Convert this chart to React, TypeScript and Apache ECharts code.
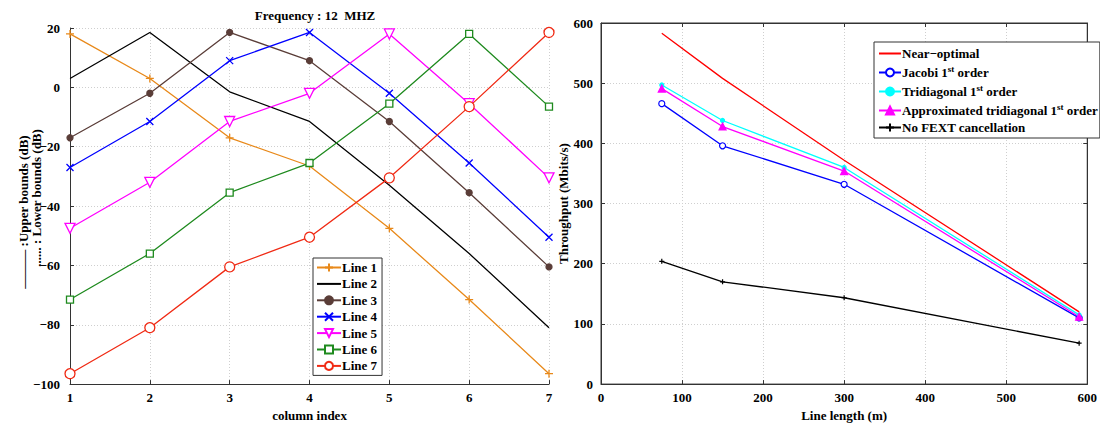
import React, { useEffect, useRef } from "react";
import * as echarts from "echarts";

const columnIndex = [1, 2, 3, 4, 5, 6, 7];
const line1 = [18, 3, -17, -26.5, -47.5, -71.5, -96.5];
const line2 = [3, 18.5, -1.5, -11.5, -33, -56, -81];
const line3 = [-17, -2, 18.5, 9, -11.5, -35.5, -60.5];
const line4 = [-27, -11.5, 9, 18.5, -2, -25.5, -50.5];
const line5 = [-47.5, -32, -11.5, -2, 18, -5.5, -30.5];
const line6 = [-71.5, -56, -35.5, -25.5, -5.5, 18, -6.5];
const line7 = [-96.5, -81, -60.5, -50.5, -30.5, -6.5, 18.5];

const lineLength = [75, 150, 300, 590];
const nearOptimal = [583, 508, 372, 120];
const jacobi = [466, 396, 332, 110];
const tridiagonal = [497, 438, 360, 115];
const approxTridiagonal = [491, 428, 354, 112];
const noFext = [204, 170, 143.5, 68];

const leftYTicks = [-100, 20, 20];
const rightYTicks = [0, 600, 100];
const rightXTicks = [0, 600, 100];

const FONT = "Liberation Serif";

const pairs = (xs: number[], ys: number[]) => xs.map((x, i) => [x, ys[i]]);
const minus = (v: number) => String(v).replace("-", "\u2212");

export default function App() {
  const ref = useRef<HTMLDivElement>(null);
  useEffect(() => {
    if (!ref.current) return;
    const chart = echarts.init(ref.current, null, { renderer: "svg" });
    const labelStyle = { fontFamily: FONT, fontWeight: "bold" as const, fontSize: 13, color: "#000" };
    const gridLine = { show: true, lineStyle: { color: "#cfcfcf", type: [1, 2] as any, width: 1 } };
    const axisLine = { show: true, onZero: false, lineStyle: { color: "#333", width: 1 } };
    const tick = { show: true, inside: true, length: 4, lineStyle: { color: "#333" } };

    const plus = "path://M0,5L10,5M5,0L5,10";
    const cross = "path://M0,0L10,10M10,0L0,10";
    const triDown = "path://M0,0L10,0L5,9Z";

    const leftDefs = [
      { name: "Line 1", data: line1, color: "#e8891a", symbol: plus, size: 8, fill: "none" },
      { name: "Line 2", data: line2, color: "#000000", symbol: "none", size: 0, fill: "none" },
      { name: "Line 3", data: line3, color: "#5a3d38", symbol: "circle", size: 6, fill: "#5a3d38" },
      { name: "Line 4", data: line4, color: "#0000ff", symbol: cross, size: 7, fill: "none" },
      { name: "Line 5", data: line5, color: "#ff00ff", symbol: triDown, size: 10, fill: "#fff" },
      { name: "Line 6", data: line6, color: "#1e8a1e", symbol: "rect", size: 7, fill: "#fff" },
      { name: "Line 7", data: line7, color: "#f02a14", symbol: "circle", size: 10, fill: "#fff" },
    ];
    const leftSeries = leftDefs.map((s) => ({
      type: "line",
      name: s.name,
      xAxisIndex: 0,
      yAxisIndex: 0,
      data: pairs(columnIndex, s.data),
      symbol: s.symbol,
      symbolSize: s.size,
      showSymbol: s.symbol !== "none",
      color: s.color,
      lineStyle: { color: s.color, width: 1.3 },
      itemStyle: { color: s.fill, borderColor: s.color, borderWidth: 1.3 },
      z: 3,
    }));

    const rightDefs = [
      { name: "Near\u2212optimal", data: nearOptimal, color: "#ff0000", symbol: "none", size: 0, fill: "none" },
      { name: "Jacobi 1st order", data: jacobi, color: "#0000ff", symbol: "circle", size: 6, fill: "#fff" },
      { name: "Tridiagonal 1st order", data: tridiagonal, color: "#00ffff", symbol: "circle", size: 4, fill: "#00ffff" },
      { name: "Approximated tridiagonal 1st order", data: approxTridiagonal, color: "#ff00ff", symbol: "triangle", size: 7, fill: "#ff00ff" },
      { name: "No FEXT cancellation", data: noFext, color: "#000000", symbol: plus, size: 5, fill: "none" },
    ];
    const rightSeries = rightDefs.map((s) => ({
      type: "line",
      name: s.name,
      xAxisIndex: 1,
      yAxisIndex: 1,
      data: pairs(lineLength, s.data),
      symbol: s.symbol,
      symbolSize: s.size,
      showSymbol: s.symbol !== "none",
      color: s.color,
      lineStyle: { color: s.color, width: 1.3 },
      itemStyle: { color: s.fill, borderColor: s.color, borderWidth: 1.2 },
      z: 3,
    }));

    const legendData = (defs: any[]) =>
      defs.map((s) =>
        s.symbol === "none"
          ? { name: s.name, itemStyle: { color: "transparent", borderColor: "transparent", borderWidth: 0, opacity: 0 } }
          : { name: s.name }
      );

    chart.setOption({
      animation: false,
      backgroundColor: "#fff",
      textStyle: { fontFamily: FONT },
      title: {
        text: "Frequency : 12  MHZ",
        left: 310,
        top: 4,
        textAlign: "center",
        textStyle: { fontFamily: FONT, fontWeight: "bold", fontSize: 13, color: "#000" },
      },
      grid: [
        { left: 70, right: 551, top: 28, bottom: 36, containLabel: false },
        { left: 601, right: 8, top: 23, bottom: 32, containLabel: false, show: true, borderColor: "#333", borderWidth: 1, backgroundColor: "transparent" },
      ],
      xAxis: [
        {
          type: "value", gridIndex: 0, min: 1, max: 7, interval: 1,
          axisLine, axisTick: tick, splitLine: gridLine,
          axisLabel: { ...labelStyle, margin: 7 },
          name: "column index", nameLocation: "middle", nameGap: 21,
          nameTextStyle: { ...labelStyle },
        },
        {
          type: "value", gridIndex: 1, min: rightXTicks[0], max: rightXTicks[1], interval: rightXTicks[2],
          axisLine, axisTick: tick, splitLine: gridLine,
          axisLabel: { ...labelStyle, margin: 7 },
          name: "Line length (m)", nameLocation: "middle", nameGap: 23,
          nameTextStyle: { ...labelStyle },
        },
        {
          type: "value", gridIndex: 1, position: "top", min: rightXTicks[0], max: rightXTicks[1], interval: rightXTicks[2],
          axisLine, axisTick: tick, splitLine: { show: false }, axisLabel: { show: false },
        },
      ],
      yAxis: [
        {
          type: "value", gridIndex: 0, min: leftYTicks[0], max: leftYTicks[1], interval: leftYTicks[2],
          axisLine, axisTick: tick, splitLine: gridLine,
          axisLabel: { ...labelStyle, margin: 10, formatter: (v: number) => minus(v) },
        },
        {
          type: "value", gridIndex: 1, min: rightYTicks[0], max: rightYTicks[1], interval: rightYTicks[2],
          axisLine, axisTick: tick, splitLine: gridLine,
          axisLabel: { ...labelStyle, margin: 8 },
          name: "Throughput (Mbits/s)", nameLocation: "middle", nameGap: 30,
          nameTextStyle: { ...labelStyle },
        },
        {
          type: "value", gridIndex: 1, position: "right", min: rightYTicks[0], max: rightYTicks[1], interval: rightYTicks[2],
          axisLine, axisTick: tick, splitLine: { show: false }, axisLabel: { show: false },
        },
      ],
      legend: [
        {
          data: legendData(leftDefs),
          orient: "vertical",
          left: 313,
          top: 258,
          itemWidth: 24,
          itemHeight: 10,
          itemGap: 3.4,
          padding: [3, 5, 3, 3],
          backgroundColor: "#fff",
          borderColor: "#333",
          borderWidth: 1,
          borderRadius: 0,
          textStyle: { ...labelStyle, fontSize: 13, padding: [0, 0, 0, -4] },
        },
        {
          data: legendData(rightDefs),
          orient: "vertical",
          left: 874,
          top: 42,
          itemWidth: 22,
          itemHeight: 10,
          itemGap: 4,
          padding: [5, 2, 4, 4],
          backgroundColor: "#fff",
          borderColor: "#333",
          borderWidth: 1,
          borderRadius: 0,
          formatter: (name: string) =>
            name.includes("1st") ? name.replace("1st", "1{sup|st}") : name,
          textStyle: {
            ...labelStyle,
            fontSize: 13,
            padding: [0, 0, 0, -4],
            rich: {
              sup: { fontFamily: FONT, fontWeight: "bold", fontSize: 9, color: "#000", verticalAlign: "top", padding: [0, 0, 8, 0] },
            },
          },
        },
      ],
      graphic: [
        {
          type: "text",
          x: 23,
          y: 212,
          rotation: Math.PI / 2,
          style: {
            text: "\u2014\u2014\u2014 :Upper bounds (dB)",
            font: `bold 13px "${FONT}"`,
            fill: "#000",
            align: "center",
            verticalAlign: "middle",
          },
        },
        {
          type: "text",
          x: 36,
          y: 198,
          rotation: Math.PI / 2,
          style: {
            text: "...... : Lower bounds (dB)",
            font: `bold 13px "${FONT}"`,
            fill: "#000",
            align: "center",
            verticalAlign: "middle",
          },
        },
      ],
      series: [...leftSeries, ...rightSeries],
    });
    return () => chart.dispose();
  }, []);
  return (
    <div
      ref={ref}
      style={{ position: "absolute", left: 0, top: 0, width: 1100, height: 427 }}
    />
  );
}
